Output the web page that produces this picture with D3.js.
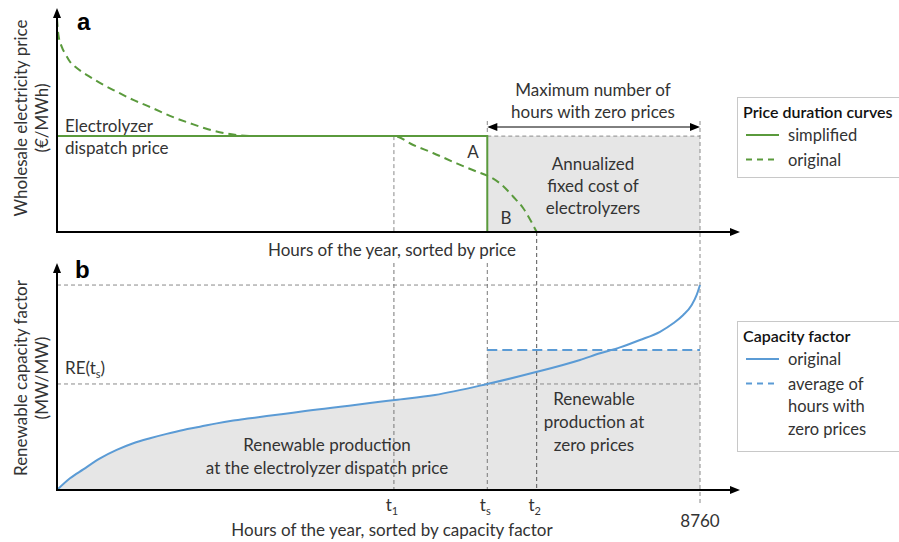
<!DOCTYPE html>
<html>
<head>
<meta charset="utf-8">
<script src="https://cdnjs.cloudflare.com/ajax/libs/d3/7.8.5/d3.min.js"></script>
<style>
  body { margin: 0; background: #fff; }
  text { font-family: Lato, "Open Sans", sans-serif; fill: #333; }
</style>
</head>
<body>
<div id="chart"></div>
<script>
// hours of the year (x) and the two conceptual curves
var yearHours = 8760;
var t1 = 4590, ts = 5862, t2 = 6535;
var dispatchPrice = 43.2;

// panel a: original price duration curve [hour, price]
var priceHours  = [0, 18, 64, 123, 177, 245, 336, 427, 609, 813, 1039, 1290, 1539, 1812, 2057, 2357, 2670,
                   4590, 4854, 5122, 5445, 5718, 5862, 6035, 6216, 6352, 6535];
var priceValues = [96, 89, 83.5, 79.7, 76.7, 74.5, 72.2, 70.3, 66.7, 63.2, 59.5, 56, 52.3, 49, 46.3, 44.1, dispatchPrice,
                   dispatchPrice, 39.2, 35.6, 30.9, 27.2, 25.4, 21.9, 15.9, 10.7, 0];

// panel b: renewable capacity factor duration curve [hour, cf]
var cfHours  = [0, 177, 358, 586, 813, 1039, 1267, 1494, 1721, 1948, 2176, 2402, 2629, 2857, 3083, 3310,
                4605, 5150, 5862, 6526, 7125, 7398, 7670, 7942, 8215, 8396, 8532, 8647, 8715, 8760];
var cfValues = [0, 0.051, 0.090, 0.138, 0.175, 0.204, 0.226, 0.245, 0.262, 0.276, 0.291, 0.303, 0.313, 0.323, 0.332, 0.342,
                0.393, 0.415, 0.463, 0.515, 0.568, 0.597, 0.623, 0.655, 0.691, 0.728, 0.764, 0.808, 0.852, 0.895];
var cfMax = 0.895;
var cfAtTs = 0.463;
var cfZeroAvg = 0.611;

var tickLabels = [{v: t1, s: '1'}, {v: ts, s: 's'}, {v: t2, s: '2'}];

var green = '#5a9a3c', blue = '#5b9bd5', grey = '#8a8a8a', fillGrey = '#e6e6e6';
var fs = 17;

var width = 899, height = 542;
var svg = d3.select('#chart').append('svg')
  .attr('width', width).attr('height', height);

var x = d3.scaleLinear().domain([0, yearHours]).range([57, 700]);
var yA = d3.scaleLinear().domain([0, 100]).range([232, 10]);
var yB = d3.scaleLinear().domain([0, 1]).range([490, 261]);

var priceData = priceHours.map(function(h, i){ return [h, priceValues[i]]; });
var cfData = cfHours.map(function(h, i){ return [h, cfValues[i]]; });

function dashed(x1, y1, x2, y2, col, dash) {
  svg.append('line')
    .attr('x1', x1).attr('y1', y1).attr('x2', x2).attr('y2', y2)
    .attr('stroke', col || grey).attr('stroke-width', 1)
    .attr('stroke-dasharray', dash || '4,3');
}
function label(txt, cx, cy, anchor, size) {
  return svg.append('text')
    .attr('x', cx).attr('y', cy)
    .attr('text-anchor', anchor || 'middle')
    .attr('dominant-baseline', 'central')
    .style('font-size', (size || fs) + 'px')
    .text(txt);
}
function tri(tipX, tipY, dir) {
  var s = 6, l = 10, p;
  if (dir === 'up') p = [[tipX, tipY], [tipX - s/2 - 1, tipY + l], [tipX + s/2 + 1, tipY + l]];
  if (dir === 'right') p = [[tipX, tipY], [tipX - l, tipY - s/2 - 1], [tipX - l, tipY + s/2 + 1]];
  if (dir === 'left') p = [[tipX, tipY], [tipX + l, tipY - s/2 - 1], [tipX + l, tipY + s/2 + 1]];
  svg.append('path').attr('d', 'M' + p.join('L') + 'Z').attr('fill', '#000');
}

// ---------- fills ----------
svg.append('rect')
  .attr('x', x(ts)).attr('y', yA(dispatchPrice))
  .attr('width', x(yearHours) - x(ts)).attr('height', yA(0) - yA(dispatchPrice))
  .attr('fill', fillGrey);

var area = d3.area()
  .x(function(d){ return x(d[0]); })
  .y0(yB(0)).y1(function(d){ return yB(d[1]); })
  .curve(d3.curveMonotoneX);
svg.append('path').datum(cfData.filter(function(d){ return d[0] <= ts; }))
  .attr('fill', fillGrey).attr('d', area);
svg.append('rect')
  .attr('x', x(ts)).attr('y', yB(cfZeroAvg))
  .attr('width', x(yearHours) - x(ts)).attr('height', yB(0) - yB(cfZeroAvg))
  .attr('fill', fillGrey);

// ---------- guides ----------
dashed(x(ts), yA(dispatchPrice), x(yearHours), yA(dispatchPrice));
dashed(x(t1), yA(dispatchPrice), x(t1), yA(0));

var arrowY = 127;
dashed(x(ts), arrowY - 6, x(ts), yA(dispatchPrice));
dashed(x(yearHours), arrowY - 6, x(yearHours), 503);
dashed(x(t2), yA(0), x(t2), yB(0), '#555');

dashed(x(0), yB(cfMax), x(yearHours), yB(cfMax));
dashed(x(0), yB(cfAtTs), x(yearHours), yB(cfAtTs));
dashed(x(t1), 263, x(t1), yB(0), '#777');
dashed(x(ts), 263, x(ts), yB(0), '#777');

// arrow: maximum number of hours with zero prices
svg.append('line').attr('x1', x(ts) + 4).attr('x2', x(yearHours) - 4)
  .attr('y1', arrowY).attr('y2', arrowY).attr('stroke', '#000').attr('stroke-width', 1);
tri(x(ts), arrowY, 'left');
tri(x(yearHours), arrowY, 'right');

// ---------- panel a curves ----------
svg.append('path').datum(priceData)
  .attr('fill', 'none').attr('stroke', green).attr('stroke-width', 2)
  .attr('stroke-dasharray', '8,5')
  .attr('d', d3.line().x(function(d){ return x(d[0]); }).y(function(d){ return yA(d[1]); }).curve(d3.curveMonotoneX));

svg.append('path')
  .attr('fill', 'none').attr('stroke', green).attr('stroke-width', 2)
  .attr('d', d3.line()([[x(0), yA(dispatchPrice)], [x(ts), yA(dispatchPrice)], [x(ts), yA(0)]]));

// axes a
svg.append('line').attr('x1', x(0)).attr('y1', yA(0)).attr('x2', x(0)).attr('y2', 16).attr('stroke', '#000').attr('stroke-width', 2);
tri(x(0), 8, 'up');
svg.append('line').attr('x1', x(0) - 1).attr('y1', yA(0)).attr('x2', 732).attr('y2', yA(0)).attr('stroke', '#000').attr('stroke-width', 2);
tri(740, yA(0), 'right');

svg.append('text').attr('x', 77).attr('y', 30)
  .style('font-family', 'Liberation Sans, Arial, sans-serif').style('font-weight', 'bold').style('font-size', '24px')
  .style('fill', '#000').text('a');

label('Electrolyzer', 65, 125, 'start');
label('dispatch price', 65, 147, 'start');
label('A', 473, 151);
label('B', 506, 217);
label('Annualized', 593, 163);
label('fixed cost of', 593, 185);
label('electrolyzers', 593, 207);
label('Maximum number of', 593, 89);
label('hours with zero prices', 593, 111);
label('Hours of the year, sorted by price', 392, 249);

label('Wholesale electricity price', 0, 0).attr('transform', 'translate(20,118) rotate(-90)');
label('(€/MWh)', 0, 0).attr('transform', 'translate(41,118) rotate(-90)');

// ---------- panel b curves ----------
svg.append('path').datum(cfData)
  .attr('fill', 'none').attr('stroke', blue).attr('stroke-width', 2)
  .attr('d', d3.line().x(function(d){ return x(d[0]); }).y(function(d){ return yB(d[1]); }).curve(d3.curveMonotoneX));

svg.append('line').attr('x1', x(ts)).attr('x2', x(yearHours))
  .attr('y1', yB(cfZeroAvg)).attr('y2', yB(cfZeroAvg))
  .attr('stroke', blue).attr('stroke-width', 2).attr('stroke-dasharray', '10,5');

// axes b
svg.append('line').attr('x1', x(0)).attr('y1', yB(0)).attr('x2', x(0)).attr('y2', 271).attr('stroke', '#000').attr('stroke-width', 2);
tri(x(0), 263, 'up');
svg.append('line').attr('x1', x(0) - 1).attr('y1', yB(0)).attr('x2', 732).attr('y2', yB(0)).attr('stroke', '#000').attr('stroke-width', 2);
tri(740, yB(0), 'right');

svg.append('text').attr('x', 75).attr('y', 278)
  .style('font-family', 'Liberation Sans, Arial, sans-serif').style('font-weight', 'bold').style('font-size', '24px')
  .style('fill', '#000').text('b');

tickLabels.forEach(function(t){
  var tx = svg.append('text').attr('x', x(t.v) - 2).attr('y', 511)
    .attr('text-anchor', 'middle').style('font-size', fs + 'px');
  tx.append('tspan').text('t');
  tx.append('tspan').attr('dy', 4).style('font-size', '11px').text(t.s);
});
label(String(yearHours), x(yearHours), 520);

var re = svg.append('text').attr('x', 65).attr('y', 374)
  .style('font-size', fs + 'px');
re.append('tspan').text('RE(t');
re.append('tspan').attr('dy', 4).style('font-size', '11px').text('s');
re.append('tspan').attr('dy', -4).text(')');

label('Renewable production', 327, 444);
label('at the electrolyzer dispatch price', 327, 467);
label('Renewable', 594, 398);
label('production at', 594, 421);
label('zero prices', 594, 444);
label('Hours of the year, sorted by capacity factor', 392, 529);

label('Renewable capacity factor', 0, 0).attr('transform', 'translate(20,378) rotate(-90)');
label('(MW/MW)', 0, 0).attr('transform', 'translate(41,378) rotate(-90)');

// ---------- legends ----------
function legendBox(y0, h, title, items) {
  svg.append('rect').attr('x', 737.5).attr('y', y0 + 0.5).attr('width', 170).attr('height', h)
    .attr('fill', '#fff').attr('stroke', '#c8c8c8');
  svg.append('text').attr('x', 743).attr('y', y0 + 14).attr('dominant-baseline', 'central')
    .style('font-size', '16px').style('font-weight', 600).style('fill', '#111').text(title);
  items.forEach(function(it, i){
    var cy = y0 + 38 + i * 24.5;
    svg.append('line').attr('x1', 746).attr('x2', 779).attr('y1', cy).attr('y2', cy)
      .attr('stroke', it.color).attr('stroke-width', 2)
      .attr('stroke-dasharray', it.dash ? '6,5' : null);
    it.lines.forEach(function(l, j){
      label(l, 788, cy + j * 22.5, 'start', 16.5);
    });
  });
}
legendBox(97, 80, 'Price duration curves', [
  {color: green, dash: false, lines: ['simplified']},
  {color: green, dash: true, lines: ['original']}
]);
legendBox(321, 130, 'Capacity factor', [
  {color: blue, dash: false, lines: ['original']},
  {color: blue, dash: true, lines: ['average of', 'hours with', 'zero prices']}
]);
</script>
</body>
</html>
